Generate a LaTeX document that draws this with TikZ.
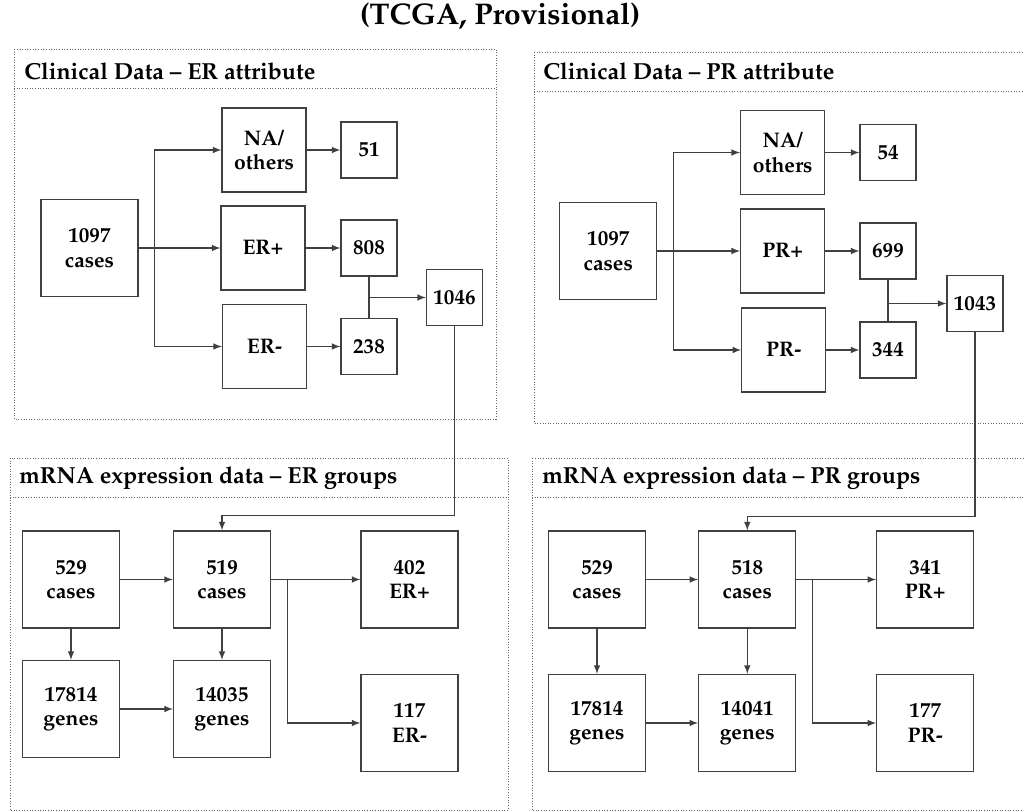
\documentclass[tikz,border=0pt]{standalone}
\usepackage[T1]{fontenc}
\renewcommand{\rmdefault}{ppl}
\usepackage{tikz}

\begin{document}
\begin{tikzpicture}[x=0.2mm, y=-0.2mm, >=latex,
    box/.style={draw=black!75, line width=0.7pt, align=center, inner sep=0pt,
        font=\bfseries\large},
    bigbox/.style={box, minimum size=19.4mm},
    midbox/.style={box, minimum size=16.8mm},
    smallbox/.style={box, minimum size=11.2mm},
    frame/.style={draw=black!60, densely dotted, line width=0.5pt},
    conn/.style={draw=black!75, line width=0.7pt},
    head/.style={anchor=base west, inner sep=0pt,
        font=\bfseries\fontsize{13.2}{16}\selectfont}]
    \useasboundingbox (0,0) rectangle (1024,812);

    % Title
    \node[font=\bfseries\fontsize{17}{20}\selectfont] (title) at (500,16) {(TCGA, Provisional)};

    % Frames
    \draw[frame] (14,49) rectangle (496,419);
    \draw[frame] (14,88) -- (496,88);
    \draw[frame] (534,52) rectangle (1040,423);
    \draw[frame] (534,91) -- (1040,91);
    \draw[frame] (10,458) rectangle (508,810);
    \draw[frame] (10,497) -- (508,497);
    \draw[frame] (532,458) rectangle (1040,810);
    \draw[frame] (532,497) -- (1040,497);

    \node[head] (er head) at (24,79) {Clinical Data -- ER attribute};
    \node[head] (pr head) at (543,79) {Clinical Data -- PR attribute};
    \node[head] (er mhead) at (19,483) {mRNA expression data -- ER groups};
    \node[head] (pr mhead) at (542,483) {mRNA expression data -- PR groups};

    % Clinical data, ER
    \node[bigbox] (er all) at (89.5,248) {1097\\cases};
    \node[midbox] (er na) at (264,150) {NA/\\others};
    \node[midbox] (er pos) at (263,248) {ER+};
    \node[midbox] (er neg) at (264.5,346.5) {ER-};
    \node[smallbox] (er n51) at (369,150) {51};
    \node[smallbox] (er n808) at (369,248) {808};
    \node[smallbox] (er n238) at (369,346.5) {238};
    \node[smallbox] (er n1046) at (454.5,297.5) {1046};

    \draw[conn,->] (er all.east) -- (er pos.west);
    \draw[conn,->] (er all.east) -- ++(16,0) |- (er na.west);
    \draw[conn,->] (er all.east) -- ++(16,0) |- (er neg.west);
    \draw[conn,->] (er na.east) -- (er n51.west);
    \draw[conn,->] (er pos.east) -- (er n808.west);
    \draw[conn,->] (er neg.east) -- (er n238.west);
    \draw[conn] (er n808.south) -- (er n238.north);
    \draw[conn,->] (er n1046.west -| er n808) -- (er n1046.west);

    % Clinical data, PR
    \node[bigbox] (pr all) at (608.3,251) {1097\\cases};
    \node[midbox] (pr na) at (782.7,152.5) {NA/\\others};
    \node[midbox] (pr pos) at (782.7,251) {PR+};
    \node[midbox] (pr neg) at (783.8,350) {PR-};
    \node[smallbox] (pr n54) at (888,152.5) {54};
    \node[smallbox] (pr n699) at (888,251) {699};
    \node[smallbox] (pr n344) at (888,350) {344};
    \node[smallbox] (pr n1043) at (975,303.5) {1043};

    \draw[conn,->] (pr all.east) -- (pr pos.west);
    \draw[conn,->] (pr all.east) -- ++(16,0) |- (pr na.west);
    \draw[conn,->] (pr all.east) -- ++(16,0) |- (pr neg.west);
    \draw[conn,->] (pr na.east) -- (pr n54.west);
    \draw[conn,->] (pr pos.east) -- (pr n699.west);
    \draw[conn,->] (pr neg.east) -- (pr n344.west);
    \draw[conn] (pr n699.south) -- (pr n344.north);
    \draw[conn,->] (pr n1043.west -| pr n699) -- (pr n1043.west);

    % mRNA data, ER
    \node[bigbox] (er c529) at (71,579.5) {529\\cases};
    \node[bigbox] (er c519) at (222,579.5) {519\\cases};
    \node[bigbox] (er s402) at (409.5,579.5) {402\\ER+};
    \node[bigbox] (er g17814) at (71,709) {17814\\genes};
    \node[bigbox] (er g14035) at (222,709) {14035\\genes};
    \node[bigbox] (er s117) at (409.5,723) {117\\ER-};

    \draw[conn,->] (er n1046.south) -- ++(0,189) -| (er c519.north);
    \draw[conn,->] (er c529.east) -- (er c519.west);
    \draw[conn,->] (er c529.south) -- (er g17814.north);
    \draw[conn,->] (er c519.south) -- (er g14035.north);
    \draw[conn,->] (er g17814.east) -- (er g14035.west);
    \draw[conn,->] (er c519.east) -- (er s402.west);
    \draw[conn,->] (er c519.east) -- ++(16,0) |- (er s117.west);

    % mRNA data, PR
    \node[bigbox] (pr c529) at (597,579.5) {529\\cases};
    \node[bigbox] (pr c518) at (747.3,579.5) {518\\cases};
    \node[bigbox] (pr s341) at (925.3,579.5) {341\\PR+};
    \node[bigbox] (pr g17814) at (597,723) {17814\\genes};
    \node[bigbox] (pr g14041) at (747.3,723) {14041\\genes};
    \node[bigbox] (pr s177) at (925.3,723) {177\\PR-};

    \draw[conn,->] (pr n1043.south) -- ++(0,184) -| (pr c518.north);
    \draw[conn,->] (pr c529.east) -- (pr c518.west);
    \draw[conn,->] (pr c529.south) -- (pr g17814.north);
    \draw[conn,->] (pr c518.south) -- (pr g14041.north);
    \draw[conn,->] (pr g17814.east) -- (pr g14041.west);
    \draw[conn,->] (pr c518.east) -- (pr s341.west);
    \draw[conn,->] (pr c518.east) -- ++(16,0) |- (pr s177.west);
\end{tikzpicture}
\end{document}
